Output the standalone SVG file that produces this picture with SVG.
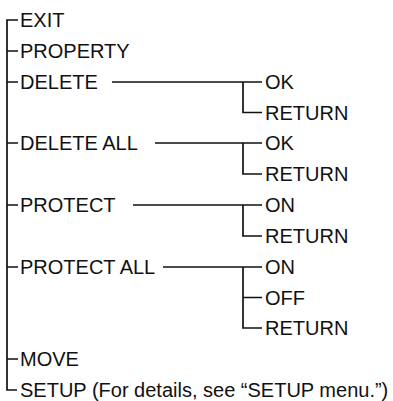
<svg xmlns="http://www.w3.org/2000/svg" width="393" height="401" viewBox="0 0 393 401">
<style>
.t{font-family:"Liberation Sans",Arial,sans-serif;font-size:20px;fill:#111}
.c{fill:none;stroke:#111;stroke-width:1.7}
</style>
<rect width="393" height="401" fill="#fff"/>
<g id="connectors" class="c">
<path d="M18,20 H7 V390 H17"/>
<path d="M7,51 H18 M7,82 H18 M7,143 H18 M7,205 H18 M7,267 H18 M7,359 H18"/>
<path d="M112,82 H262 M243,82 V112.5 H262"/>
<path d="M155,143 H262 M243,143 V174 H262"/>
<path d="M133,205 H262 M243,205 V236 H262"/>
<path d="M163,267 H262 M243,267 V328 H262 M243,297.5 H262"/>
</g>
<g id="exit"><text class="t" x="20" y="27">EXIT</text></g>
<g id="property"><text class="t" x="20" y="58">PROPERTY</text></g>
<g id="delete"><text class="t" x="20" y="89">DELETE</text></g>
<g id="delete-ok"><text class="t" x="265" y="89">OK</text></g>
<g id="delete-return"><text class="t" x="265" y="119.5">RETURN</text></g>
<g id="delete-all"><text class="t" x="20" y="150">DELETE ALL</text></g>
<g id="delete-all-ok"><text class="t" x="265" y="150">OK</text></g>
<g id="delete-all-return"><text class="t" x="265" y="181">RETURN</text></g>
<g id="protect"><text class="t" x="20" y="212">PROTECT</text></g>
<g id="protect-on"><text class="t" x="265" y="212">ON</text></g>
<g id="protect-return"><text class="t" x="265" y="243">RETURN</text></g>
<g id="protect-all"><text class="t" x="20" y="274">PROTECT ALL</text></g>
<g id="protect-all-on"><text class="t" x="265" y="274">ON</text></g>
<g id="protect-all-off"><text class="t" x="265" y="304.5">OFF</text></g>
<g id="protect-all-return"><text class="t" x="265" y="335">RETURN</text></g>
<g id="move"><text class="t" x="20" y="366">MOVE</text></g>
<g id="setup"><text class="t" x="20" y="397">SETUP (For details, see “SETUP menu.”)</text></g>
</svg>
